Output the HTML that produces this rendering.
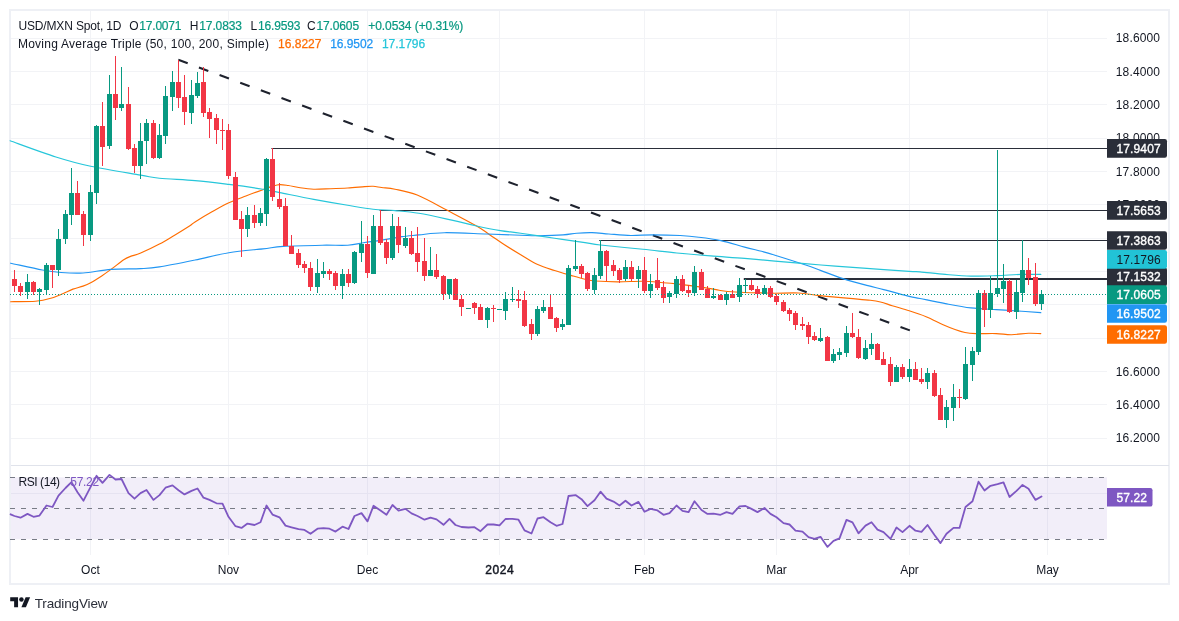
<!DOCTYPE html>
<html><head><meta charset="utf-8"><title>USD/MXN</title>
<style>html,body{margin:0;padding:0;background:#fff;width:1179px;height:621px;overflow:hidden}body{position:relative;font-family:"Liberation Sans",sans-serif}</style>
</head><body>
<svg width="1179" height="621" viewBox="0 0 1179 621" style="position:absolute;left:0;top:0;will-change:transform;font-family:'Liberation Sans',sans-serif">
<rect x="0" y="0" width="1179" height="621" fill="#fff"/>
<rect x="10" y="10" width="1159" height="574" fill="none" stroke="#eef0f5" stroke-width="2" shape-rendering="crispEdges"/>
<path d="M11 38.5H1107 M11 71.5H1107 M11 104.5H1107 M11 138.5H1107 M11 171.5H1107 M11 204.5H1107 M11 238.5H1107 M11 271.5H1107 M11 304.5H1107 M11 338.5H1107 M11 371.5H1107 M11 404.5H1107 M11 438.5H1107 M90.5 11V554.7 M228.5 11V554.7 M367.5 11V554.7 M499.5 11V554.7 M644.5 11V554.7 M776.5 11V554.7 M909.5 11V554.7 M1047.5 11V554.7 M11 493.5H1107" stroke="#f2f3f6" stroke-width="1" fill="none" shape-rendering="crispEdges"/>
<path d="M11 465.5H1169" stroke="#e0e3eb" stroke-width="1" shape-rendering="crispEdges"/>
<path d="M271.4 148.5H1107M379.6 210.5H1107M599.2 240.5H1107" stroke="#2a2e39" stroke-width="1.2" fill="none"/>
<path d="M743.8 279H1107" stroke="#2a2e39" stroke-width="2.2" fill="none"/>
<path d="M178.3 59.8L909.9 330.4" stroke="#1e222d" stroke-width="2.1" stroke-dasharray="10 12" fill="none"/>
<path d="M10.6 301.7C14.8 301.6 28.8 301.9 35.5 301.3C42.2 300.7 46.3 299.6 50.8 298.3C55.3 297.0 59.0 295.2 62.7 293.7C66.4 292.2 69.5 290.4 72.9 289.1C76.3 287.8 80.0 287.2 83.0 286.1C86.0 285.0 87.6 284.4 90.7 282.7C93.8 281.0 98.3 278.1 101.7 275.9C105.1 273.7 107.3 272.1 111.0 269.4C114.7 266.7 120.5 262.0 123.7 259.8C127.0 257.6 127.7 257.5 130.5 256.4C133.3 255.3 135.9 255.1 140.7 253.0C145.5 250.9 153.8 247.0 159.4 244.0C165.1 241.0 169.5 238.2 174.6 235.2C179.7 232.2 186.5 228.0 189.9 225.8C193.3 223.6 191.3 224.2 195.0 221.9C198.7 219.6 206.3 215.0 212.0 211.8C217.7 208.6 223.2 205.4 228.9 202.8C234.6 200.2 240.2 198.2 245.9 196.0C251.6 193.8 258.4 191.3 262.9 189.7C267.4 188.0 270.2 186.9 273.0 186.1C275.8 185.2 277.2 184.7 279.8 184.6C282.4 184.5 284.9 185.0 288.3 185.5C291.7 186.0 296.0 187.2 300.2 187.8C304.4 188.4 308.6 189.0 313.7 189.2C318.8 189.3 325.0 188.9 330.7 188.7C336.4 188.5 342.0 188.3 347.7 188.0C353.4 187.7 360.4 186.9 364.6 186.6C368.8 186.3 370.3 186.2 373.1 186.3C375.9 186.5 378.0 187.0 381.6 187.5C385.2 188.0 389.1 187.9 395.0 189.2C400.9 190.4 408.4 191.4 417.2 195.0C426.0 198.6 437.9 205.4 447.8 210.6C457.7 215.8 469.7 222.0 476.6 226.0C483.5 230.0 484.8 231.4 489.3 234.4C493.8 237.4 498.5 240.8 503.7 244.2C508.9 247.6 515.0 251.3 520.7 254.7C526.4 258.1 532.1 262.0 537.7 264.6C543.4 267.2 549.0 268.7 554.6 270.5C560.2 272.3 566.5 274.1 571.6 275.6C576.7 277.1 581.0 278.4 585.0 279.3C589.0 280.2 590.0 280.6 595.4 281.0C600.8 281.4 609.5 281.8 617.4 281.8C625.3 281.9 635.3 281.2 642.9 281.3C650.5 281.4 657.6 282.3 663.2 282.7C668.9 283.1 671.7 283.3 676.8 283.9C681.9 284.5 688.6 285.4 693.7 286.1C698.8 286.8 703.0 287.4 707.3 288.1C711.5 288.8 715.8 289.7 719.2 290.3C722.6 290.9 723.5 291.1 727.7 291.5C731.9 291.9 739.0 292.3 744.6 292.5C750.2 292.7 756.5 292.8 761.6 292.9C766.7 293.0 768.8 293.2 775.0 293.2C781.2 293.2 792.1 292.7 798.9 293.0C805.7 293.3 810.2 294.6 815.9 295.2C821.6 295.8 827.2 296.4 832.9 296.9C838.5 297.4 843.6 297.8 849.8 298.4C856.0 299.0 865.1 299.7 870.2 300.3C875.3 300.9 876.7 301.1 880.4 302.0C884.1 302.9 887.4 304.2 892.2 305.7C897.0 307.2 903.6 309.0 909.2 310.8C914.9 312.6 920.5 314.4 926.1 316.7C931.8 319.0 938.3 322.6 943.1 324.7C947.9 326.8 951.4 328.2 955.0 329.5C958.6 330.8 961.5 331.8 965.0 332.5C968.5 333.2 970.8 333.4 976.0 333.6C981.2 333.8 990.4 333.4 996.3 333.6C1002.2 333.8 1006.2 334.8 1011.6 334.7C1017.0 334.6 1023.7 333.5 1028.6 333.3C1033.5 333.1 1038.8 333.6 1040.8 333.6" fill="none" stroke="#ff6d00" stroke-width="1.15" stroke-linejoin="round" stroke-linecap="round"/>
<path d="M10.6 263.2C15.9 264.3 33.9 268.4 42.3 270.0C50.7 271.6 54.2 272.0 61.0 272.5C67.8 273.0 74.7 273.5 83.0 273.0C91.3 272.5 101.4 270.1 111.0 269.4C120.6 268.7 132.6 269.0 140.7 268.6C148.8 268.2 150.3 268.3 159.4 266.9C168.5 265.5 183.4 262.4 195.0 260.0C206.6 257.6 217.6 254.5 228.9 252.7C240.2 250.8 253.8 249.9 262.9 248.9C271.9 247.9 273.3 247.0 283.2 246.4C293.1 245.8 311.4 245.4 322.2 245.2C332.9 245.0 340.6 245.6 347.7 245.2C354.8 244.8 359.0 243.3 364.6 242.5C370.2 241.7 376.5 240.9 381.6 240.1C386.7 239.3 391.6 238.5 395.0 237.9C398.4 237.3 398.0 237.1 402.0 236.6C406.0 236.1 411.8 235.6 418.9 234.9C426.0 234.2 433.1 232.8 444.4 232.7C455.7 232.5 474.1 233.6 486.8 234.0C499.5 234.4 512.2 234.9 520.7 235.2C529.2 235.5 530.6 235.8 537.7 235.7C544.8 235.6 556.6 235.3 563.1 234.9C569.6 234.5 571.9 233.6 576.7 233.2C581.5 232.8 586.6 232.5 592.0 232.6C597.4 232.7 602.4 233.5 608.9 234.0C615.4 234.5 623.6 235.4 631.0 235.5C638.4 235.6 644.8 234.8 653.0 234.8C661.2 234.8 672.6 235.1 680.2 235.5C687.8 235.9 692.0 236.3 698.8 237.2C705.6 238.0 713.3 238.9 720.9 240.6C728.5 242.2 737.8 245.3 744.6 247.1C751.4 248.9 756.5 250.0 761.6 251.3C766.7 252.7 767.6 252.9 775.0 255.2C782.4 257.5 798.0 262.4 805.7 265.0C813.4 267.6 814.8 268.3 821.0 270.6C827.2 272.9 835.4 276.1 843.0 278.6C850.6 281.1 860.0 283.6 866.8 285.4C873.6 287.2 876.6 287.8 883.7 289.6C890.8 291.4 903.2 294.9 909.2 296.4C915.2 297.9 914.0 297.3 920.0 298.5C926.0 299.7 936.9 302.0 945.4 303.6C953.9 305.2 962.4 306.9 970.9 307.9C979.4 308.9 987.8 309.1 996.3 309.6C1004.8 310.2 1014.4 310.7 1021.8 311.2C1029.2 311.7 1037.6 312.4 1040.8 312.6" fill="none" stroke="#2196f3" stroke-width="1.15" stroke-linejoin="round" stroke-linecap="round"/>
<path d="M10.1 140.8C17.7 143.5 42.5 152.8 55.9 157.0C69.3 161.2 76.6 163.3 90.7 166.3C104.8 169.3 129.2 173.1 140.7 175.1C152.1 177.1 150.3 177.3 159.4 178.2C168.5 179.1 183.4 179.6 195.0 180.6C206.6 181.6 217.6 183.0 228.9 184.4C240.2 185.8 254.4 187.8 262.9 189.2C271.4 190.6 271.3 190.9 279.8 192.6C288.3 194.3 302.4 197.3 313.7 199.4C325.0 201.5 337.8 203.7 347.7 205.3C357.6 206.9 365.2 208.3 373.1 209.2C381.0 210.1 387.4 209.9 395.0 210.6C402.6 211.3 409.2 211.7 418.9 213.3C428.5 214.9 443.3 218.3 452.9 220.4C462.5 222.5 468.7 224.3 476.6 226.0C484.5 227.7 493.0 229.4 500.4 230.6C507.8 231.8 511.7 231.9 520.7 233.2C529.7 234.5 543.9 236.7 554.6 238.3C565.3 239.9 577.4 241.5 585.0 242.6C592.6 243.7 590.8 243.9 600.4 245.0C610.0 246.1 630.2 248.0 642.9 249.3C655.6 250.6 665.5 251.9 676.8 253.0C688.1 254.1 699.4 255.0 710.7 255.9C722.0 256.8 733.9 257.5 744.6 258.4C755.3 259.3 762.3 260.0 775.0 261.1C787.7 262.2 805.7 263.8 821.0 265.0C836.3 266.2 852.1 267.3 866.8 268.4C881.5 269.5 900.3 270.8 909.2 271.4C918.1 272.0 914.0 271.4 920.0 271.9C926.0 272.4 936.9 273.7 945.4 274.4C953.9 275.1 962.4 275.9 970.9 276.1C979.4 276.3 987.8 275.9 996.3 275.6C1004.8 275.3 1014.4 274.6 1021.8 274.4C1029.2 274.2 1037.6 274.4 1040.8 274.4" fill="none" stroke="#26c6da" stroke-width="1.15" stroke-linejoin="round" stroke-linecap="round"/>
<path d="M27 274h1V299h-1zM39 288h1V305h-1zM46 263h1V295h-1zM58 229h1V276h-1zM65 210h1V244h-1zM71 168h1V225h-1zM90 185h1V241h-1zM96 125h1V204h-1zM109 75h1V149h-1zM121 67h1V111h-1zM140 123h1V179h-1zM146 119h1V164h-1zM159 124h1V159h-1zM165 86h1V144h-1zM172 71h1V111h-1zM191 80h1V124h-1zM197 72h1V98h-1zM247 207h1V237h-1zM260 208h1V226h-1zM266 158h1V226h-1zM317 259h1V293h-1zM323 262h1V278h-1zM342 269h1V299h-1zM354 251h1V284h-1zM361 221h1V262h-1zM373 215h1V274h-1zM392 214h1V260h-1zM405 227h1V248h-1zM430 247h1V276h-1zM449 279h1V299h-1zM468 308h1V309h-1zM487 307h1V328h-1zM499 309h1V310h-1zM505 292h1V320h-1zM512 287h1V302h-1zM537 306h1V336h-1zM543 300h1V313h-1zM562 319h1V330h-1zM568 265h1V325h-1zM575 240h1V271h-1zM594 268h1V294h-1zM600 240h1V279h-1zM625 260h1V281h-1zM638 266h1V288h-1zM650 274h1V298h-1zM669 291h1V303h-1zM676 276h1V298h-1zM694 266h1V296h-1zM713 288h1V299h-1zM726 292h1V305h-1zM739 278h1V302h-1zM745 279h1V293h-1zM764 285h1V294h-1zM820 328h1V342h-1zM833 349h1V363h-1zM839 348h1V360h-1zM846 326h1V357h-1zM865 340h1V360h-1zM871 333h1V355h-1zM896 365h1V382h-1zM909 359h1V382h-1zM927 368h1V389h-1zM946 400h1V428h-1zM953 384h1V421h-1zM965 347h1V400h-1zM972 347h1V381h-1zM978 290h1V355h-1zM990 276h1V318h-1zM997 150h1V297h-1zM1003 264h1V303h-1zM1016 280h1V319h-1zM1022 240h1V302h-1zM1041 290h1V310h-1zM25 282h5V292h-5zM37 289h5V292h-5zM44 265h5V290h-5zM56 239h5V270h-5zM63 214h5V239h-5zM69 193h5V215h-5zM88 192h5V235h-5zM94 126h5V193h-5zM107 94h5V146h-5zM119 104h5V108h-5zM138 141h5V166h-5zM144 123h5V141h-5zM157 135h5V158h-5zM163 96h5V136h-5zM170 82h5V97h-5zM189 95h5V113h-5zM195 83h5V96h-5zM245 215h5V229h-5zM258 213h5V223h-5zM264 159h5V214h-5zM315 273h5V287h-5zM321 271h5V274h-5zM340 274h5V286h-5zM352 252h5V283h-5zM359 244h5V253h-5zM371 226h5V274h-5zM390 226h5V258h-5zM403 238h5V246h-5zM428 270h5V276h-5zM447 279h5V294h-5zM466 308h5V309h-5zM485 308h5V320h-5zM497 309h5V310h-5zM503 299h5V311h-5zM510 299h5V300h-5zM535 309h5V334h-5zM541 307h5V311h-5zM560 324h5V327h-5zM566 268h5V325h-5zM573 266h5V269h-5zM592 275h5V290h-5zM598 251h5V276h-5zM623 267h5V279h-5zM636 270h5V279h-5zM648 284h5V291h-5zM667 293h5V297h-5zM674 279h5V294h-5zM692 272h5V293h-5zM711 296h5V298h-5zM724 294h5V300h-5zM737 285h5V297h-5zM743 285h5V286h-5zM762 288h5V294h-5zM818 338h5V341h-5zM831 354h5V361h-5zM837 352h5V355h-5zM844 333h5V353h-5zM863 348h5V359h-5zM869 344h5V349h-5zM894 367h5V382h-5zM907 369h5V377h-5zM925 373h5V382h-5zM944 407h5V420h-5zM951 397h5V408h-5zM963 364h5V399h-5zM970 351h5V365h-5zM976 293h5V352h-5zM988 293h5V310h-5zM995 288h5V294h-5zM1001 281h5V289h-5zM1014 292h5V312h-5zM1020 270h5V293h-5zM1039 294h5V304h-5z" fill="#089981" shape-rendering="crispEdges"/>
<path d="M14 270h1V292h-1zM20 283h1V296h-1zM33 281h1V295h-1zM52 265h1V288h-1zM77 181h1V215h-1zM83 211h1V246h-1zM102 102h1V166h-1zM115 56h1V120h-1zM128 87h1V150h-1zM134 144h1V173h-1zM153 120h1V159h-1zM178 60h1V108h-1zM184 75h1V125h-1zM203 67h1V117h-1zM209 108h1V138h-1zM216 114h1V144h-1zM222 119h1V150h-1zM228 124h1V179h-1zM235 172h1V220h-1zM241 211h1V257h-1zM254 205h1V228h-1zM272 148h1V201h-1zM279 183h1V209h-1zM285 198h1V246h-1zM291 235h1V254h-1zM298 249h1V268h-1zM304 261h1V273h-1zM310 262h1V291h-1zM329 269h1V280h-1zM335 271h1V290h-1zM348 269h1V287h-1zM367 236h1V278h-1zM380 210h1V245h-1zM386 239h1V264h-1zM398 217h1V253h-1zM411 231h1V255h-1zM417 227h1V272h-1zM424 238h1V281h-1zM436 254h1V279h-1zM443 275h1V300h-1zM455 278h1V300h-1zM461 295h1V316h-1zM474 302h1V314h-1zM480 304h1V320h-1zM493 305h1V322h-1zM518 290h1V308h-1zM524 291h1V327h-1zM531 319h1V340h-1zM550 294h1V319h-1zM556 317h1V332h-1zM581 264h1V278h-1zM587 272h1V291h-1zM606 250h1V281h-1zM613 260h1V276h-1zM619 268h1V283h-1zM631 261h1V281h-1zM644 257h1V293h-1zM657 258h1V290h-1zM663 281h1V303h-1zM682 275h1V292h-1zM688 285h1V297h-1zM701 269h1V290h-1zM707 286h1V298h-1zM720 294h1V300h-1zM732 290h1V298h-1zM751 280h1V291h-1zM757 286h1V298h-1zM770 286h1V298h-1zM776 294h1V305h-1zM783 300h1V312h-1zM789 308h1V321h-1zM795 311h1V330h-1zM802 317h1V330h-1zM808 322h1V344h-1zM814 332h1V341h-1zM827 336h1V361h-1zM852 313h1V338h-1zM858 329h1V359h-1zM877 343h1V360h-1zM883 352h1V365h-1zM890 357h1V386h-1zM902 364h1V379h-1zM915 362h1V380h-1zM921 368h1V384h-1zM934 370h1V397h-1zM940 388h1V420h-1zM959 389h1V408h-1zM984 290h1V327h-1zM1009 279h1V313h-1zM1028 258h1V285h-1zM1035 263h1V306h-1zM12 279h5V286h-5zM18 286h5V292h-5zM31 282h5V292h-5zM50 265h5V270h-5zM75 193h5V215h-5zM81 214h5V235h-5zM100 126h5V147h-5zM113 94h5V108h-5zM126 104h5V149h-5zM132 148h5V166h-5zM151 123h5V158h-5zM176 82h5V98h-5zM182 97h5V112h-5zM201 82h5V113h-5zM207 112h5V119h-5zM214 118h5V130h-5zM220 130h5V131h-5zM226 130h5V176h-5zM233 177h5V220h-5zM239 219h5V229h-5zM252 215h5V223h-5zM270 159h5V197h-5zM277 199h5V207h-5zM283 206h5V246h-5zM289 246h5V254h-5zM296 253h5V265h-5zM302 264h5V268h-5zM308 268h5V287h-5zM327 271h5V274h-5zM333 273h5V286h-5zM346 274h5V283h-5zM365 244h5V273h-5zM378 226h5V243h-5zM384 242h5V258h-5zM396 226h5V245h-5zM409 238h5V254h-5zM415 253h5V262h-5zM422 261h5V276h-5zM434 270h5V277h-5zM441 276h5V294h-5zM453 279h5V300h-5zM459 299h5V307h-5zM472 303h5V308h-5zM478 307h5V320h-5zM491 308h5V309h-5zM516 299h5V301h-5zM522 300h5V326h-5zM529 324h5V334h-5zM548 307h5V319h-5zM554 318h5V328h-5zM579 266h5V274h-5zM585 273h5V289h-5zM604 251h5V266h-5zM611 265h5V271h-5zM617 270h5V280h-5zM629 267h5V279h-5zM642 270h5V291h-5zM655 280h5V288h-5zM661 287h5V298h-5zM680 279h5V291h-5zM686 290h5V293h-5zM699 272h5V290h-5zM705 289h5V298h-5zM718 295h5V300h-5zM730 294h5V298h-5zM749 285h5V290h-5zM755 289h5V294h-5zM768 288h5V297h-5zM774 296h5V302h-5zM781 302h5V311h-5zM787 310h5V314h-5zM793 313h5V325h-5zM800 324h5V326h-5zM806 325h5V337h-5zM812 336h5V340h-5zM825 337h5V361h-5zM850 333h5V337h-5zM856 337h5V358h-5zM875 344h5V360h-5zM881 359h5V365h-5zM888 364h5V382h-5zM900 367h5V377h-5zM913 369h5V380h-5zM919 379h5V382h-5zM932 373h5V396h-5zM938 395h5V420h-5zM957 397h5V398h-5zM982 293h5V310h-5zM1007 281h5V312h-5zM1026 270h5V278h-5zM1033 277h5V304h-5z" fill="#f23645" shape-rendering="crispEdges"/>
<path d="M10 294.5H1107" stroke="#089981" stroke-width="1" stroke-dasharray="1 2" shape-rendering="crispEdges"/>
<rect x="11" y="477.3" width="1096" height="61.9" fill="#7e57c2" fill-opacity="0.1"/>
<path d="M10 477.5H15M65 477.5H70M98 477.5H1107M10 508.5H1107M10 539.5H1107" stroke="#787b86" stroke-width="1" stroke-dasharray="5 6" fill="none" shape-rendering="crispEdges"/>
<path d="M10.6 514.3 L14.5 516.0 L20.5 517.7 L27.5 513.9 L33.5 516.8 L39.5 515.6 L46.5 505.5 L52.5 507.0 L58.5 495.6 L65.5 488.0 L71.5 482.1 L77.5 492.2 L83.5 500.7 L90.5 487.1 L96.5 475.8 L102.5 482.9 L109.5 474.9 L115.5 479.5 L121.5 479.0 L128.5 493.1 L134.5 498.7 L140.5 493.1 L146.5 490.0 L153.5 499.9 L159.5 495.1 L165.5 487.7 L172.5 485.4 L178.5 490.2 L184.5 494.4 L191.5 490.9 L197.5 488.5 L203.5 497.7 L209.5 499.9 L216.5 503.3 L222.5 503.6 L228.5 516.8 L235.5 526.2 L241.5 527.9 L247.5 523.6 L254.5 525.0 L260.5 522.3 L266.5 505.5 L272.5 514.6 L279.5 517.3 L285.5 525.6 L291.5 527.3 L298.5 529.2 L304.5 529.9 L310.5 533.8 L317.5 528.7 L323.5 528.2 L329.5 528.7 L335.5 531.6 L342.5 526.7 L348.5 529.0 L354.5 516.0 L361.5 513.1 L367.5 521.4 L373.5 505.8 L380.5 510.4 L386.5 514.8 L392.5 505.0 L398.5 510.6 L405.5 508.9 L411.5 513.4 L417.5 516.0 L424.5 519.7 L430.5 517.7 L436.5 519.4 L443.5 524.8 L449.5 518.9 L455.5 525.0 L461.5 527.0 L468.5 527.5 L474.5 527.2 L480.5 531.2 L487.5 524.5 L493.5 524.5 L499.5 525.3 L505.5 519.0 L512.5 518.9 L518.5 519.7 L524.5 530.4 L531.5 533.5 L537.5 518.5 L543.5 517.2 L550.5 522.3 L556.5 525.8 L562.5 524.0 L568.5 496.0 L575.5 495.1 L581.5 499.2 L587.5 506.1 L594.5 500.2 L600.5 491.7 L606.5 498.7 L613.5 501.6 L619.5 505.5 L625.5 500.7 L631.5 505.5 L638.5 501.9 L644.5 511.7 L650.5 508.9 L657.5 510.4 L663.5 514.8 L669.5 513.1 L676.5 505.5 L682.5 510.9 L688.5 512.2 L694.5 501.2 L701.5 510.0 L707.5 513.9 L713.5 513.6 L720.5 514.8 L726.5 512.1 L732.5 513.8 L739.5 506.3 L745.5 506.0 L751.5 508.9 L757.5 512.1 L764.5 508.0 L770.5 513.9 L776.5 517.3 L783.5 523.1 L789.5 524.5 L795.5 530.7 L802.5 531.6 L808.5 537.2 L814.5 538.9 L820.5 536.8 L827.5 546.9 L833.5 540.9 L839.5 538.4 L846.5 519.9 L852.5 522.4 L858.5 533.3 L865.5 525.6 L871.5 522.3 L877.5 529.6 L883.5 532.1 L890.5 538.9 L896.5 527.5 L902.5 532.1 L909.5 525.8 L915.5 530.7 L921.5 531.8 L927.5 525.0 L934.5 535.0 L940.5 543.1 L946.5 533.8 L953.5 527.9 L959.5 527.9 L965.5 507.0 L972.5 501.2 L978.5 481.7 L984.5 490.5 L990.5 485.8 L997.5 484.1 L1003.5 482.4 L1009.5 497.0 L1016.5 490.9 L1022.5 484.9 L1028.5 488.8 L1035.5 499.9 L1041.5 496.5" fill="none" stroke="#7e57c2" stroke-width="1.8" stroke-linejoin="round" stroke-linecap="round"/>
<text x="1115.8" y="42" font-size="12" fill="#131722" textLength="44.2" lengthAdjust="spacing">18.6000</text>
<text x="1115.8" y="76" font-size="12" fill="#131722" textLength="44.2" lengthAdjust="spacing">18.4000</text>
<text x="1115.8" y="109" font-size="12" fill="#131722" textLength="44.2" lengthAdjust="spacing">18.2000</text>
<text x="1115.8" y="142" font-size="12" fill="#131722" textLength="44.2" lengthAdjust="spacing">18.0000</text>
<text x="1115.8" y="176" font-size="12" fill="#131722" textLength="44.2" lengthAdjust="spacing">17.8000</text>
<text x="1115.8" y="209" font-size="12" fill="#131722" textLength="44.2" lengthAdjust="spacing">17.6000</text>
<text x="1115.8" y="342" font-size="12" fill="#131722" textLength="44.2" lengthAdjust="spacing">16.8000</text>
<text x="1115.8" y="376" font-size="12" fill="#131722" textLength="44.2" lengthAdjust="spacing">16.6000</text>
<text x="1115.8" y="409" font-size="12" fill="#131722" textLength="44.2" lengthAdjust="spacing">16.4000</text>
<text x="1115.8" y="442" font-size="12" fill="#131722" textLength="44.2" lengthAdjust="spacing">16.2000</text>
<path d="M1107 139.1H1164.8a2.2 2.2 0 0 1 2.2 2.2V155.5a2.2 2.2 0 0 1 -2.2 2.2H1107z" fill="#2a2e39"/><text x="1116.4" y="152.7" font-size="12" fill="#fff" stroke="#fff" stroke-width="0.35" textLength="44.3" lengthAdjust="spacing">17.9407</text>
<path d="M1107 201.1H1164.8a2.2 2.2 0 0 1 2.2 2.2V217.5a2.2 2.2 0 0 1 -2.2 2.2H1107z" fill="#2a2e39"/><text x="1116.4" y="214.7" font-size="12" fill="#fff" stroke="#fff" stroke-width="0.35" textLength="44.3" lengthAdjust="spacing">17.5653</text>
<path d="M1107 231.2H1164.8a2.2 2.2 0 0 1 2.2 2.2V247.6a2.2 2.2 0 0 1 -2.2 2.2H1107z" fill="#2a2e39"/><text x="1116.4" y="244.8" font-size="12" fill="#fff" stroke="#fff" stroke-width="0.35" textLength="44.3" lengthAdjust="spacing">17.3863</text>
<path d="M1107 267.5H1164.8a2.2 2.2 0 0 1 2.2 2.2V283.9a2.2 2.2 0 0 1 -2.2 2.2H1107z" fill="#2a2e39"/><text x="1116.4" y="281.1" font-size="12" fill="#fff" stroke="#fff" stroke-width="0.35" textLength="44.3" lengthAdjust="spacing">17.1532</text>
<path d="M1107 250.1H1164.8a2.2 2.2 0 0 1 2.2 2.2V266.5a2.2 2.2 0 0 1 -2.2 2.2H1107z" fill="#22c3d6"/><text x="1116.4" y="263.7" font-size="12" fill="#131722" textLength="44.3" lengthAdjust="spacing">17.1796</text>
<path d="M1107 285.3H1164.8a2.2 2.2 0 0 1 2.2 2.2V301.7a2.2 2.2 0 0 1 -2.2 2.2H1107z" fill="#089981"/><text x="1116.4" y="298.9" font-size="12" fill="#fff" stroke="#fff" stroke-width="0.35" textLength="44.3" lengthAdjust="spacing">17.0605</text>
<path d="M1107 304.2H1164.8a2.2 2.2 0 0 1 2.2 2.2V320.6a2.2 2.2 0 0 1 -2.2 2.2H1107z" fill="#2196f3"/><text x="1116.4" y="317.8" font-size="12" fill="#fff" stroke="#fff" stroke-width="0.35" textLength="44.3" lengthAdjust="spacing">16.9502</text>
<path d="M1107 325.2H1164.8a2.2 2.2 0 0 1 2.2 2.2V341.6a2.2 2.2 0 0 1 -2.2 2.2H1107z" fill="#ff6d00"/><text x="1116.4" y="338.8" font-size="12" fill="#fff" stroke="#fff" stroke-width="0.35" textLength="44.3" lengthAdjust="spacing">16.8227</text>
<path d="M1107 488.0H1150.3a2.2 2.2 0 0 1 2.2 2.2V504.4a2.2 2.2 0 0 1 -2.2 2.2H1107z" fill="#7e57c2"/><text x="1116.4" y="501.6" font-size="12" fill="#fff" stroke="#fff" stroke-width="0.35" textLength="30.6" lengthAdjust="spacing">57.22</text>
<text x="90.4" y="573.7" font-size="12" fill="#131722" text-anchor="middle">Oct</text>
<text x="228.4" y="573.7" font-size="12" fill="#131722" text-anchor="middle">Nov</text>
<text x="367.5" y="573.7" font-size="12" fill="#131722" text-anchor="middle">Dec</text>
<text x="499.4" y="573.7" font-size="12" fill="#131722" text-anchor="middle" stroke="#131722" stroke-width="0.45" textLength="28.4" lengthAdjust="spacing">2024</text>
<text x="644.4" y="573.7" font-size="12" fill="#131722" text-anchor="middle">Feb</text>
<text x="776.5" y="573.7" font-size="12" fill="#131722" text-anchor="middle">Mar</text>
<text x="909.5" y="573.7" font-size="12" fill="#131722" text-anchor="middle">Apr</text>
<text x="1047.5" y="573.7" font-size="12" fill="#131722" text-anchor="middle">May</text>
<text x="18.5" y="29.8" font-size="12" fill="#131722" textLength="103" lengthAdjust="spacing">USD/MXN Spot, 1D</text>
<text x="138.5" y="29.8" font-size="12" fill="#131722" text-anchor="end">O</text>
<text x="139.3" y="29.8" font-size="12" fill="#089981" stroke="#089981" stroke-width="0.2" textLength="42.2" lengthAdjust="spacing">17.0071</text>
<text x="198.5" y="29.8" font-size="12" fill="#131722" text-anchor="end">H</text>
<text x="199.3" y="29.8" font-size="12" fill="#089981" stroke="#089981" stroke-width="0.2" textLength="42.6" lengthAdjust="spacing">17.0833</text>
<text x="257.09999999999997" y="29.8" font-size="12" fill="#131722" text-anchor="end">L</text>
<text x="257.9" y="29.8" font-size="12" fill="#089981" stroke="#089981" stroke-width="0.2" textLength="42.6" lengthAdjust="spacing">16.9593</text>
<text x="315.7" y="29.8" font-size="12" fill="#131722" text-anchor="end">C</text>
<text x="316.5" y="29.8" font-size="12" fill="#089981" stroke="#089981" stroke-width="0.2" textLength="42.6" lengthAdjust="spacing">17.0605</text>
<text x="368.2" y="29.8" font-size="12" fill="#089981" textLength="95.1" lengthAdjust="spacing" stroke="#089981" stroke-width="0.2">+0.0534 (+0.31%)</text>
<text x="17.9" y="47.9" font-size="12" fill="#131722" textLength="251" lengthAdjust="spacing">Moving Average Triple (50, 100, 200, Simple)</text>
<text x="278.1" y="47.9" font-size="12" fill="#ff6d00" textLength="43.3" lengthAdjust="spacing" stroke="#ff6d00" stroke-width="0.25">16.8227</text>
<text x="330.2" y="47.9" font-size="12" fill="#2196f3" textLength="43.1" lengthAdjust="spacing" stroke="#2196f3" stroke-width="0.25">16.9502</text>
<text x="381.9" y="47.9" font-size="12" fill="#26c6da" textLength="43.3" lengthAdjust="spacing" stroke="#26c6da" stroke-width="0.25">17.1796</text>
<text x="18.6" y="485.9" font-size="12" fill="#131722" textLength="41.5" lengthAdjust="spacing">RSI (14)</text>
<text x="70.3" y="485.9" font-size="12" fill="#7e57c2" textLength="28.8" lengthAdjust="spacing">57.22</text>
<g transform="translate(10.2,595) scale(0.561)" fill="#131722"><path d="M14 22H7V11H0V4h14v18z"/><path d="M28 22h-8l7.5-18h8L28 22z"/><circle cx="20" cy="8" r="4"/></g>
<text x="34.7" y="607.5" font-size="13.5" fill="#2a2e39" textLength="72.8" lengthAdjust="spacing">TradingView</text>
</svg>
</body></html>
